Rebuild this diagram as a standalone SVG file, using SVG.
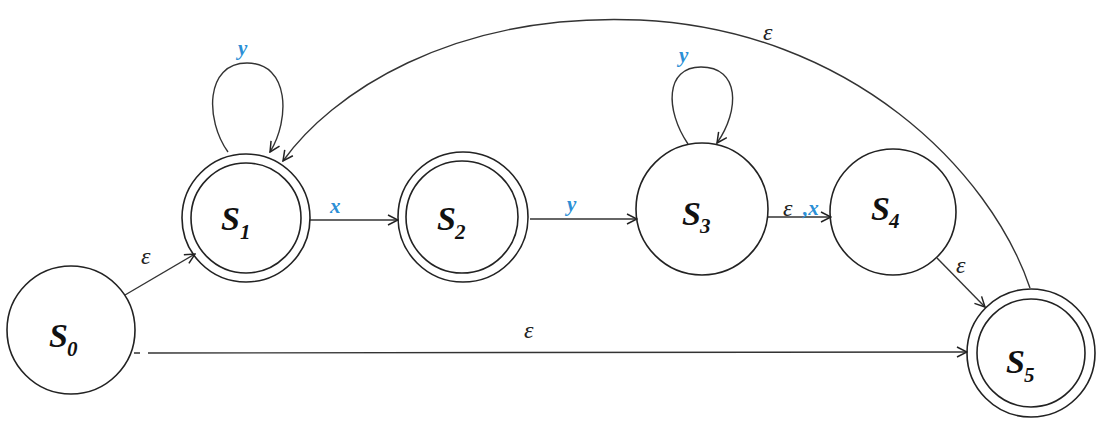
<svg xmlns="http://www.w3.org/2000/svg" width="1102" height="427" viewBox="0 0 1102 427">
<style>
.st{fill:none;stroke:#222;stroke-width:1.6}
.ed{fill:none;stroke:#333;stroke-width:1.4}
.lb{font-family:"Liberation Serif",serif;font-style:italic;font-weight:bold;fill:#111}
.sub{font-size:21px}
.eps{font-family:"Liberation Serif",serif;font-style:italic;font-size:24px;fill:#222}
.bl{font-family:"Liberation Serif",serif;font-style:italic;font-weight:bold;font-size:21px;fill:#2b8fd6}
</style>
<defs>
<marker id="arr" viewBox="0 0 12 12" refX="11" refY="6" markerWidth="12" markerHeight="12" markerUnits="userSpaceOnUse" orient="auto">
<path d="M1,1 L11,6 L1,11" fill="none" stroke="#222" stroke-width="1.5"/>
</marker>
</defs>
<rect width="1102" height="427" fill="#fff"/>
<g id="connectors">
<path class="ed" d="M125,295 L195,254" marker-end="url(#arr)"/>
<path class="ed" d="M134,353 L140,353 M148,353 L967,352" marker-end="url(#arr)"/>
<path class="ed" d="M310,220 L398,220" marker-end="url(#arr)"/>
<path class="ed" d="M530,219 L637,219" marker-end="url(#arr)"/>
<path class="ed" d="M767,217 L831,217" marker-end="url(#arr)"/>
<path class="ed" d="M937,258 L985,307" marker-end="url(#arr)"/>
<path class="ed" d="M228,152 C205,120 205,63 247,63 C290,63 290,120 270,152" marker-end="url(#arr)"/>
<path class="ed" d="M688,144 C665,110 665,67 701,67 C740,67 740,110 717,143" marker-end="url(#arr)"/>
<path class="ed" d="M1030,288 C990,170 850,30 640,20 C450,12 330,95 283,161" marker-end="url(#arr)"/>
<text class="eps" x="141" y="264">ε</text>
<text class="eps" x="524" y="338">ε</text>
<text class="bl" x="330" y="213">x</text>
<text class="bl" x="567" y="211">y</text>
<text class="eps" x="783" y="216">ε</text><text class="bl" x="803" y="215">,x</text>
<text class="eps" x="956" y="273">ε</text>
<text class="bl" x="238" y="55">y</text>
<text class="bl" x="679" y="62">y</text>
<text class="eps" x="763" y="40">ε</text>
</g>
<g id="S0">
<circle class="st" cx="71" cy="330" r="64"/>
<text class="lb" x="49" y="347" font-size="34">S<tspan class="sub" dx="-1" dy="9">0</tspan></text>
</g>
<g id="S1">
<circle class="st" cx="246" cy="218" r="64"/>
<circle class="st" cx="246" cy="218" r="55"/>
<text class="lb" x="221" y="230" font-size="34">S<tspan class="sub" dx="0" dy="9">1</tspan></text>
</g>
<g id="S2">
<circle class="st" cx="463" cy="217" r="65"/>
<circle class="st" cx="462" cy="217" r="56"/>
<text class="lb" x="437" y="230" font-size="34">S<tspan class="sub" dx="-1" dy="9">2</tspan></text>
</g>
<g id="S3">
<circle class="st" cx="702" cy="209" r="66"/>
<text class="lb" x="682" y="225" font-size="34">S<tspan class="sub" dx="-1" dy="8">3</tspan></text>
</g>
<g id="S4">
<circle class="st" cx="893" cy="212" r="63"/>
<text class="lb" x="871" y="220" font-size="34">S<tspan class="sub" dx="-1" dy="8">4</tspan></text>
</g>
<g id="S5">
<circle class="st" cx="1031" cy="353" r="64"/>
<circle class="st" cx="1031" cy="353" r="54"/>
<text class="lb" x="1006" y="373" font-size="34">S<tspan class="sub" dx="-1" dy="9">5</tspan></text>
</g>
</svg>
